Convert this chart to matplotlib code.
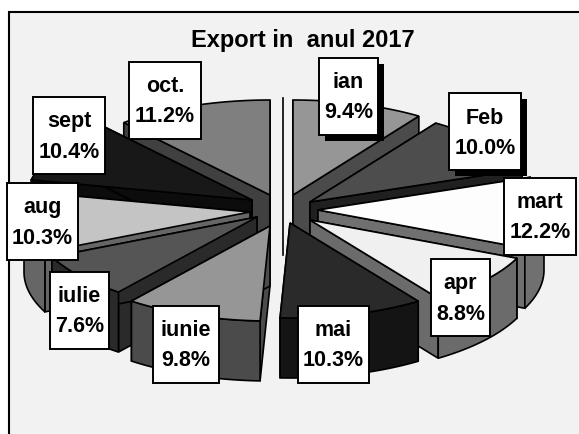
import numpy as np
import matplotlib
matplotlib.use("Agg")
import matplotlib.pyplot as plt
from matplotlib.patches import Polygon, Rectangle

months = ['ian', 'Feb', 'mart', 'apr', 'mai', 'iunie', 'iulie', 'aug', 'sept', 'oct.']
shares = [9.4, 10.0, 12.2, 8.8, 10.3, 9.8, 7.6, 10.3, 10.4, 11.2]
title = 'Export in  anul 2017'

# where each exploded slice has its tip, pixels
tip_x = [293, 310, 318, 310, 290, 270, 257, 250, 252, 270]
tip_y = [195, 202, 210, 220, 223, 226, 217, 212, 200, 195]
top_colors = ['#969696', '#4d4d4d', '#fdfdfd', '#f0f0f0', '#2a2a2a', '#969696', '#555555', '#c4c4c4', '#181818', '#7f7f7f']
side_colors = ['#4b4b4b', '#202020', '#707070', '#6b6b6b', '#141414', '#4b4b4b', '#2a2a2a', '#666666', '#0c0c0c', '#404040']
draw_order = [9, 0, 8, 1, 7, 2, 6, 3, 5, 4]

# label boxes: left, top, right, bottom
boxes = [(319, 58, 378, 135), (449, 93, 521, 170), (504, 178, 576, 255), (431, 259, 490, 336),
         (298, 306, 369, 383), (153, 306, 219, 383), (50, 272, 109, 349), (7, 183, 78, 260),
         (33, 97, 105, 174), (129, 62, 201, 139)]
shadowed = ['ian', 'Feb']

rx, ry, depth = 226, 95, 60

fig = plt.figure(figsize=(5.79, 4.34), dpi=100)
ax = fig.add_axes([0, 0, 1, 1])
ax.set_xlim(0, 579)
ax.set_ylim(434, 0)
ax.axis('off')
plt.rcParams['font.family'] = ['Liberation Sans', 'DejaVu Sans']

# frame runs off the right and bottom of the picture
ax.add_patch(Rectangle((9, 11.5), 600, 460, fc='#f2f2f2', ec='black', lw=1.5, zorder=0))

edges = np.cumsum([0] + shares) / sum(shares) * 2 * np.pi
z = 1
for i in draw_order:
    t = np.linspace(edges[i], edges[i + 1], 40)
    rim = np.column_stack([tip_x[i] + rx * np.sin(t), tip_y[i] - ry * np.cos(t)])
    tip = np.array([[tip_x[i], tip_y[i]]])
    down = np.array([0, depth])
    for k in (0, -1):
        cut = np.vstack([tip, rim[[k]], rim[[k]] + down, tip + down])
        ax.add_patch(Polygon(cut, fc=side_colors[i], ec='black', lw=1.2, zorder=z))
    # only the front half of the rim faces the viewer
    front = np.cos(t) <= 0
    if front.sum() > 1:
        wall = np.vstack([rim[front], (rim[front] + down)[::-1]])
        ax.add_patch(Polygon(wall, fc=side_colors[i], ec='black', lw=1.2, zorder=z))
    ax.add_patch(Polygon(np.vstack([tip, rim]), fc=top_colors[i], ec='black', lw=1.2, zorder=z))
    z += 1

# stray line that sits in the gap of the pie
ax.plot([283, 283], [98, 255], color='black', lw=1.2, zorder=z)

ax.text(303, 41, title, ha='center', va='center', fontsize=17, fontweight='bold', zorder=30)

for name, share, (x0, y0, x1, y1) in zip(months, shares, boxes):
    if name in shadowed:
        ax.add_patch(Rectangle((x0 + 6, y0 + 6), x1 - x0, y1 - y0, fc='black', ec='none', zorder=20))
    ax.add_patch(Rectangle((x0, y0), x1 - x0, y1 - y0, fc='white', ec='black', lw=1.4, zorder=21))
    ax.text((x0 + x1) / 2, y0 + 25, name, ha='center', va='center', fontsize=15.5, fontweight='bold', zorder=22)
    ax.text((x0 + x1) / 2, y0 + 55, f'{share:.1f}%', ha='center', va='center', fontsize=15.5, fontweight='bold', zorder=22)

fig.savefig('out.png', dpi=100, facecolor='white')
